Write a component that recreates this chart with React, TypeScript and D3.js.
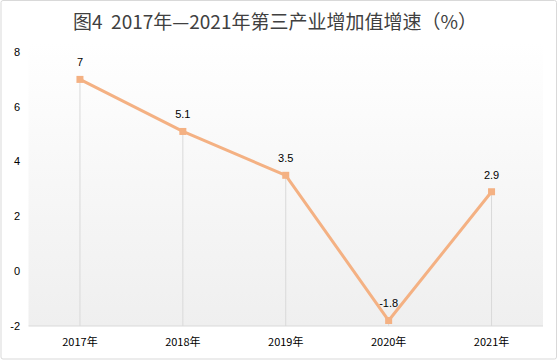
import React from "react";
import * as d3 from "d3";

const categories = ["2017年", "2018年", "2019年", "2020年", "2021年"];
const values = [7, 5.1, 3.5, -1.8, 2.9];
const yTicks = [-2, 0, 2, 4, 6, 8];
const title = "图4\u00a0\u00a02017年—2021年第三产业增加值增速（%）";

const W = 559, H = 360;
const plot = { left: 28.5, right: 543, top: 52, bottom: 326 };

export default function App() {
  const x = d3.scaleBand().domain(categories).range([plot.left, plot.right]);
  const y = d3.scaleLinear().domain([-2, 8]).range([plot.bottom, plot.top]);
  const cx = (c: string) => (x(c) as number) + x.bandwidth() / 2;
  const line = d3.line<number>().x((_, i) => cx(categories[i])).y((d) => y(d));
  const font = "'Liberation Sans', Arial, sans-serif";
  return (
    <svg width={W} height={H} style={{ position: "absolute", left: 0, top: 0 }}>
      <defs>
        <linearGradient id="bg" x1="0" y1="0" x2="0" y2="1">
          <stop offset="0" stopColor="#ffffff" />
          <stop offset="1" stopColor="#efefef" />
        </linearGradient>
      </defs>
      <rect x={1} y={0.5} width={W - 3.5} height={H - 1.5} fill="#fff" stroke="#d9d9d9" rx={2} />
      <rect x={plot.left} y={plot.top - 10} width={plot.right - plot.left} height={plot.bottom - plot.top + 10} fill="url(#bg)" />
      <text x={275} y={29} textAnchor="middle" fontSize={19} fill="#404040" fontFamily="'Noto Sans CJK SC', sans-serif">{title}</text>
      {yTicks.map((t) => (
        <text key={t} x={20} y={y(t)} dy="0.35em" textAnchor="end" fontSize={11} fill="#000" fontFamily={font}>{t}</text>
      ))}
      {categories.map((c, i) => (
        <line key={c} x1={cx(c)} x2={cx(c)} y1={y(values[i])} y2={plot.bottom} stroke="#d9d9d9" strokeWidth={1} />
      ))}
      <line x1={plot.left} x2={plot.right} y1={plot.bottom} y2={plot.bottom} stroke="#d9d9d9" strokeWidth={1} />
      {categories.map((c) => (
        <text key={c} x={cx(c)} y={342} dy="0.35em" textAnchor="middle" fontSize={11} fill="#000" fontFamily="'Noto Sans CJK SC', sans-serif">{c}</text>
      ))}
      <path d={line(values) as string} fill="none" stroke="#f4b183" strokeWidth={3} strokeLinejoin="round" />
      {categories.map((c, i) => (
        <rect key={c} x={cx(c) - 3.5} y={y(values[i]) - 3.5} width={7} height={7} fill="#f4b183" />
      ))}
      {categories.map((c, i) => (
        <text key={c} x={cx(c)} y={y(values[i]) - 17} dy="0.35em" textAnchor="middle" fontSize={11} fill="#000" fontFamily={font}>{values[i]}</text>
      ))}
    </svg>
  );
}
